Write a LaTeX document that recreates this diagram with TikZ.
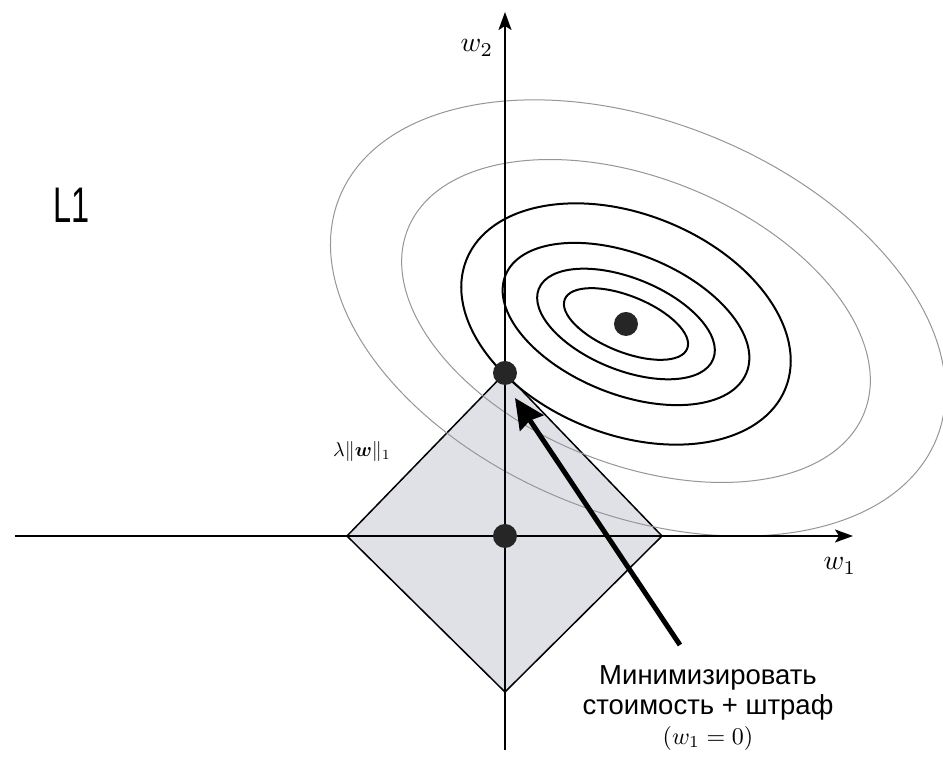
\documentclass[tikz,border=0pt]{standalone}
\usepackage{amsmath,bm}
\usepackage{fontspec}
\usepackage{tikz}
\usetikzlibrary{arrows.meta,positioning}
\newfontfamily\notefont{Liberation Sans}
\newfontfamily\tagfont[FakeStretch=0.65]{Liberation Sans}
\definecolor{ballfill}{RGB}{223,225,231}
\definecolor{farline}{RGB}{150,150,150}
\newcommand{\bigmath}[2]{\scalebox{#1}{\normalsize$#2$}}
\tikzset{
  axis/.style={-{Stealth[length=18pt,width=13pt,inset=4pt]}, line width=2pt},
  contour/.style={line width=2pt},
  farcontour/.style={draw=farline, line width=1pt},
  dot/.style={circle, fill=black!85, inner sep=0pt, minimum size=24pt},
  pointer/.style={-{Stealth[length=30pt,width=28pt,inset=3pt]}, line width=5pt},
  ball/.style={fill=ballfill, draw=black, line width=1.5pt},
  axlabel/.style={inner sep=0pt},
  note/.style={font=\notefont\fontsize{27.5}{30}\selectfont, align=center, inner sep=0pt}
}

\begin{document}
\begin{tikzpicture}[x=1pt, y=1pt]
  \useasboundingbox[fill=white] (-505,-223) rectangle (438,536);
  % l1 ball
  \draw[ball] (157,0) -- (0,163) -- (-158,0) -- (0,-156) -- cycle;
  % level sets of the cost
  \coordinate (C) at (121,212);
  \coordinate (C5) at (131,215);
  \coordinate (C6) at (133,218);
  \draw[farcontour, rotate around={-22:(C6)}] (C6) ellipse [x radius=322, y radius=196];
  \draw[farcontour, rotate around={-22:(C5)}] (C5) ellipse [x radius=246, y radius=143];
  \foreach \a/\b in {66/28, 94/46, 130/70, 172/110}
    \draw[contour, rotate around={-22:(C)}] (C) ellipse [x radius=\a, y radius=\b];
  % axes
  \coordinate (xfrom) at (-490,0);
  \coordinate (xto) at (348,0);
  \coordinate (yfrom) at (0,-214);
  \coordinate (yto) at (0,524);
  \draw[axis] (xfrom) -- (xto);
  \draw[axis] (yfrom) -- (yto);
  \node[axlabel] (w1) at (335,-30) {\bigmath{2.8}{w_1}};
  \node[axlabel] (w2) at (-28,488) {\bigmath{2.8}{w_2}};
  % points
  \node[dot] (optimum) at (C) {};
  \node[dot] (corner) at (0,163) {};
  \node[dot] (origin) at (0,0) {};
  \node[inner sep=0pt] (norm) at (-143,84) {\bigmath{2}{\lambda\|\bm{w}\|_1}};
  \node[note, anchor=north] (caption) at (203,-129)
    {Минимизировать\\стоимость + штраф\\\bigmath{2.4}{(w_1 = 0)}};
  \coordinate (tail) at (175,-109);
  \coordinate (tip) at (10,138);
  \draw[pointer] (tail) -- (tip);
  \node[font=\tagfont\fontsize{50}{50}\selectfont, inner sep=0pt] (tag) at (-433,331) {L1};
\end{tikzpicture}
\end{document}
